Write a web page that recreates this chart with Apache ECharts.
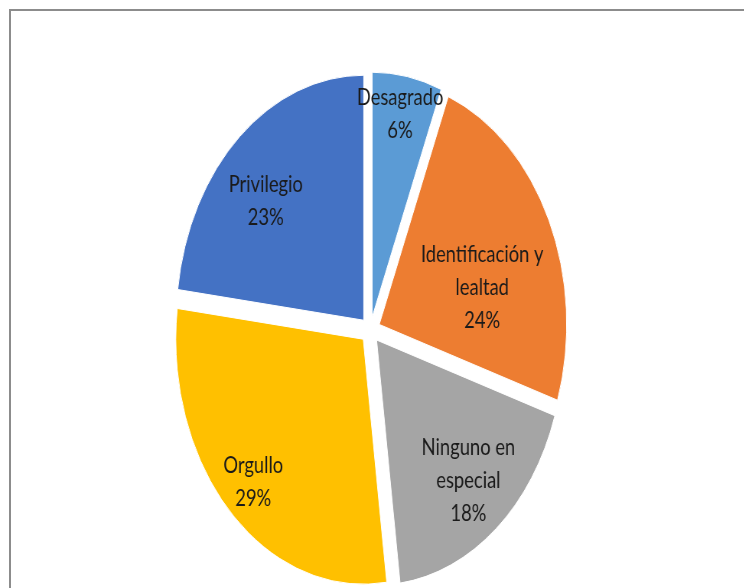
<!DOCTYPE html>
<html>
<head>
<meta charset="utf-8">
<script src="https://cdn.jsdelivr.net/npm/echarts@6/dist/echarts.min.js"></script>
<style>
  html, body { margin: 0; padding: 0; background: #fff; overflow: hidden; width: 744px; height: 588px; }
  #frame { position: absolute; left: 9px; top: 9px; width: 800px; height: 700px;
           border-top: 2px solid #8c8c8c; border-left: 2px solid #8c8c8c; }
  /* chart is laid out wider, then squeezed horizontally */
  #chart { position: absolute; left: 0; top: 0; width: 973px; height: 588px;
           transform: scaleX(0.765); transform-origin: 0 0; }
</style>
</head>
<body>
<div id="frame"></div>
<div id="chart"></div>
<script>
// Motivos — shares in percent, clockwise from 12 o'clock
const categories = ['Desagrado', 'Identificación y\nlealtad', 'Ninguno en\nespecial', 'Orgullo', 'Privilegio'];
const values = [6, 24, 18, 29, 23];
const colors = ['#5B9BD5', '#ED7D31', '#A5A5A5', '#FFC000', '#4472C4'];
// per-slice nudges of the inside labels
const labelShift = [[13, -80], [21, 16], [40, 44], [-55, 54], [-45, -25]];

const chart = echarts.init(document.getElementById('chart'), null, { renderer: 'canvas' });

chart.setOption({
  animation: false,
  series: [{
    type: 'pie',
    center: [484, 330],
    radius: [0, 245],
    startAngle: 90,
    clockwise: true,
    selectedMode: 'multiple',
    selectedOffset: 13,
    avoidLabelOverlap: false,
    itemStyle: { borderColor: '#ffffff', borderWidth: 1 },
    label: {
      show: true,
      position: 'inside',
      color: '#1a1a1a',
      fontFamily: 'Lato',
      fontSize: 24,
      lineHeight: 33,
      align: 'center',
      formatter: p => p.name + '\n' + p.value + '%'
    },
    labelLine: { show: false },
    labelLayout: p => ({ dx: labelShift[p.dataIndex][0], dy: labelShift[p.dataIndex][1] }),
    emphasis: { disabled: true },
    select: { itemStyle: { borderColor: '#ffffff', borderWidth: 1 } },
    data: categories.map((name, i) => ({
      name: name,
      value: values[i],
      selected: true,
      itemStyle: { color: colors[i] }
    }))
  }]
});
</script>
</body>
</html>
